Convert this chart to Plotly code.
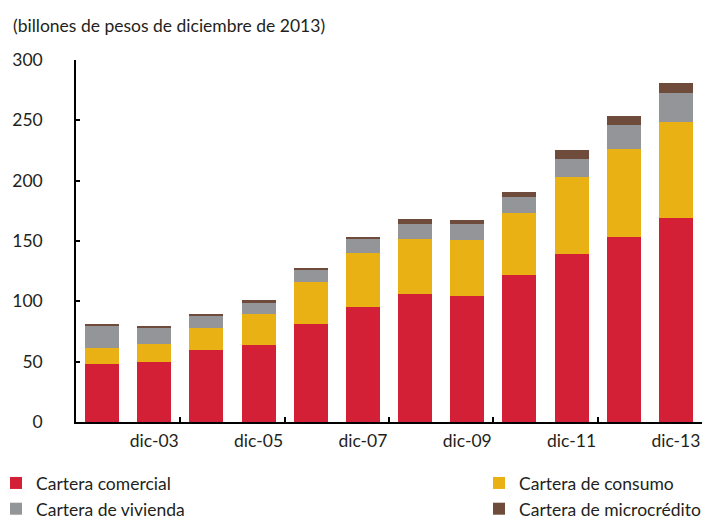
import plotly.graph_objects as go

categories = ["dic-02", "dic-03", "dic-04", "dic-05", "dic-06", "dic-07",
              "dic-08", "dic-09", "dic-10", "dic-11", "dic-12", "dic-13"]
comercial = [48, 49.5, 60, 64, 81, 95, 106, 104.7, 121.5, 139.5, 153.6, 169]
consumo = [13, 15, 18, 25.5, 35, 45, 46, 46, 51.7, 63.3, 73, 80]
vivienda = [19, 14, 10.5, 9, 10.7, 11.5, 12, 13, 13, 15.4, 19.4, 23.7]
microcredito = [0.8, 1.3, 1.3, 2.5, 0.8, 2.2, 4, 4, 4, 7.5, 7.7, 8.6]
tick_labels = ["dic-03", "dic-05", "dic-07", "dic-09", "dic-11", "dic-13"]
y_ticks = [0, 50, 100, 150, 200, 250, 300]

FONT = "Lato"
FS = 17.5
TXT = "#231F20"
series = [
    ("Cartera comercial", comercial, "#D42037", "legend"),
    ("Cartera de consumo", consumo, "#EAB114", "legend2"),
    ("Cartera de vivienda", vivienda, "#939598", "legend"),
    ("Cartera de microcrédito", microcredito, "#6E4B3B", "legend2"),
]

fig = go.Figure()
for name, vals, color, lg in series:
    fig.add_trace(go.Bar(x=categories, y=vals, name=name, marker_color=color,
                         marker_line_width=0, legend=lg))

# helper axis for tick marks between bar pairs
n = len(categories)
boundary_ticks = [i + 1.5 for i in range(0, n, 2)]
fig.add_trace(go.Scatter(x=[], y=[], xaxis="x2", showlegend=False))

fig.update_layout(
    width=704, height=519,
    margin=dict(l=76, r=2, t=60, b=97, autoexpand=False),
    barmode="stack",
    bargap=0.35,
    plot_bgcolor="white", paper_bgcolor="white",
    font=dict(family=FONT, size=FS, color=TXT),
    xaxis=dict(type="category", categoryorder="array", categoryarray=categories,
               tickvals=tick_labels, ticktext=tick_labels, ticks="",
               showline=True, linecolor="black", linewidth=1.5,
               range=[-0.5, n - 0.5], tickfont=dict(size=FS),
               ticklabelstandoff=2),
    xaxis2=dict(overlaying="x", range=[-0.5, n - 0.5], tickvals=boundary_ticks,
                ticks="inside", ticklen=5, tickcolor="black", tickwidth=1.5,
                showticklabels=False, showgrid=False, zeroline=False,
                side="bottom", anchor="y"),
    yaxis=dict(range=[0, 300], tickvals=y_ticks, ticks="inside", ticklen=4,
               tickcolor="black", tickwidth=1.5, showline=True, linecolor="black",
               linewidth=1.5, showgrid=False, zeroline=False, tickfont=dict(size=FS),
               ticklabelstandoff=28),
    legend=dict(x=-0.1278, y=-0.119, xref="paper", yref="paper", xanchor="left",
                yanchor="top", orientation="v", font=dict(size=FS),
                itemwidth=30, traceorder="normal", bgcolor="rgba(0,0,0,0)"),
    legend2=dict(x=0.6438, y=-0.119, xref="paper", yref="paper", xanchor="left",
                 yanchor="top", orientation="v", font=dict(size=FS),
                 itemwidth=30, traceorder="normal", bgcolor="rgba(0,0,0,0)"),
    annotations=[dict(text="(billones de pesos de diciembre de 2013)",
                      xref="paper", yref="paper", x=0, y=1, xshift=-65, yshift=35,
                      xanchor="left", yanchor="middle", showarrow=False,
                      font=dict(size=FS))],
)
fig.write_html(
    "out.html",
    config={"displayModeBar": False},
    post_script="document.body.style.margin='0';document.body.style.overflow='hidden';",
)
